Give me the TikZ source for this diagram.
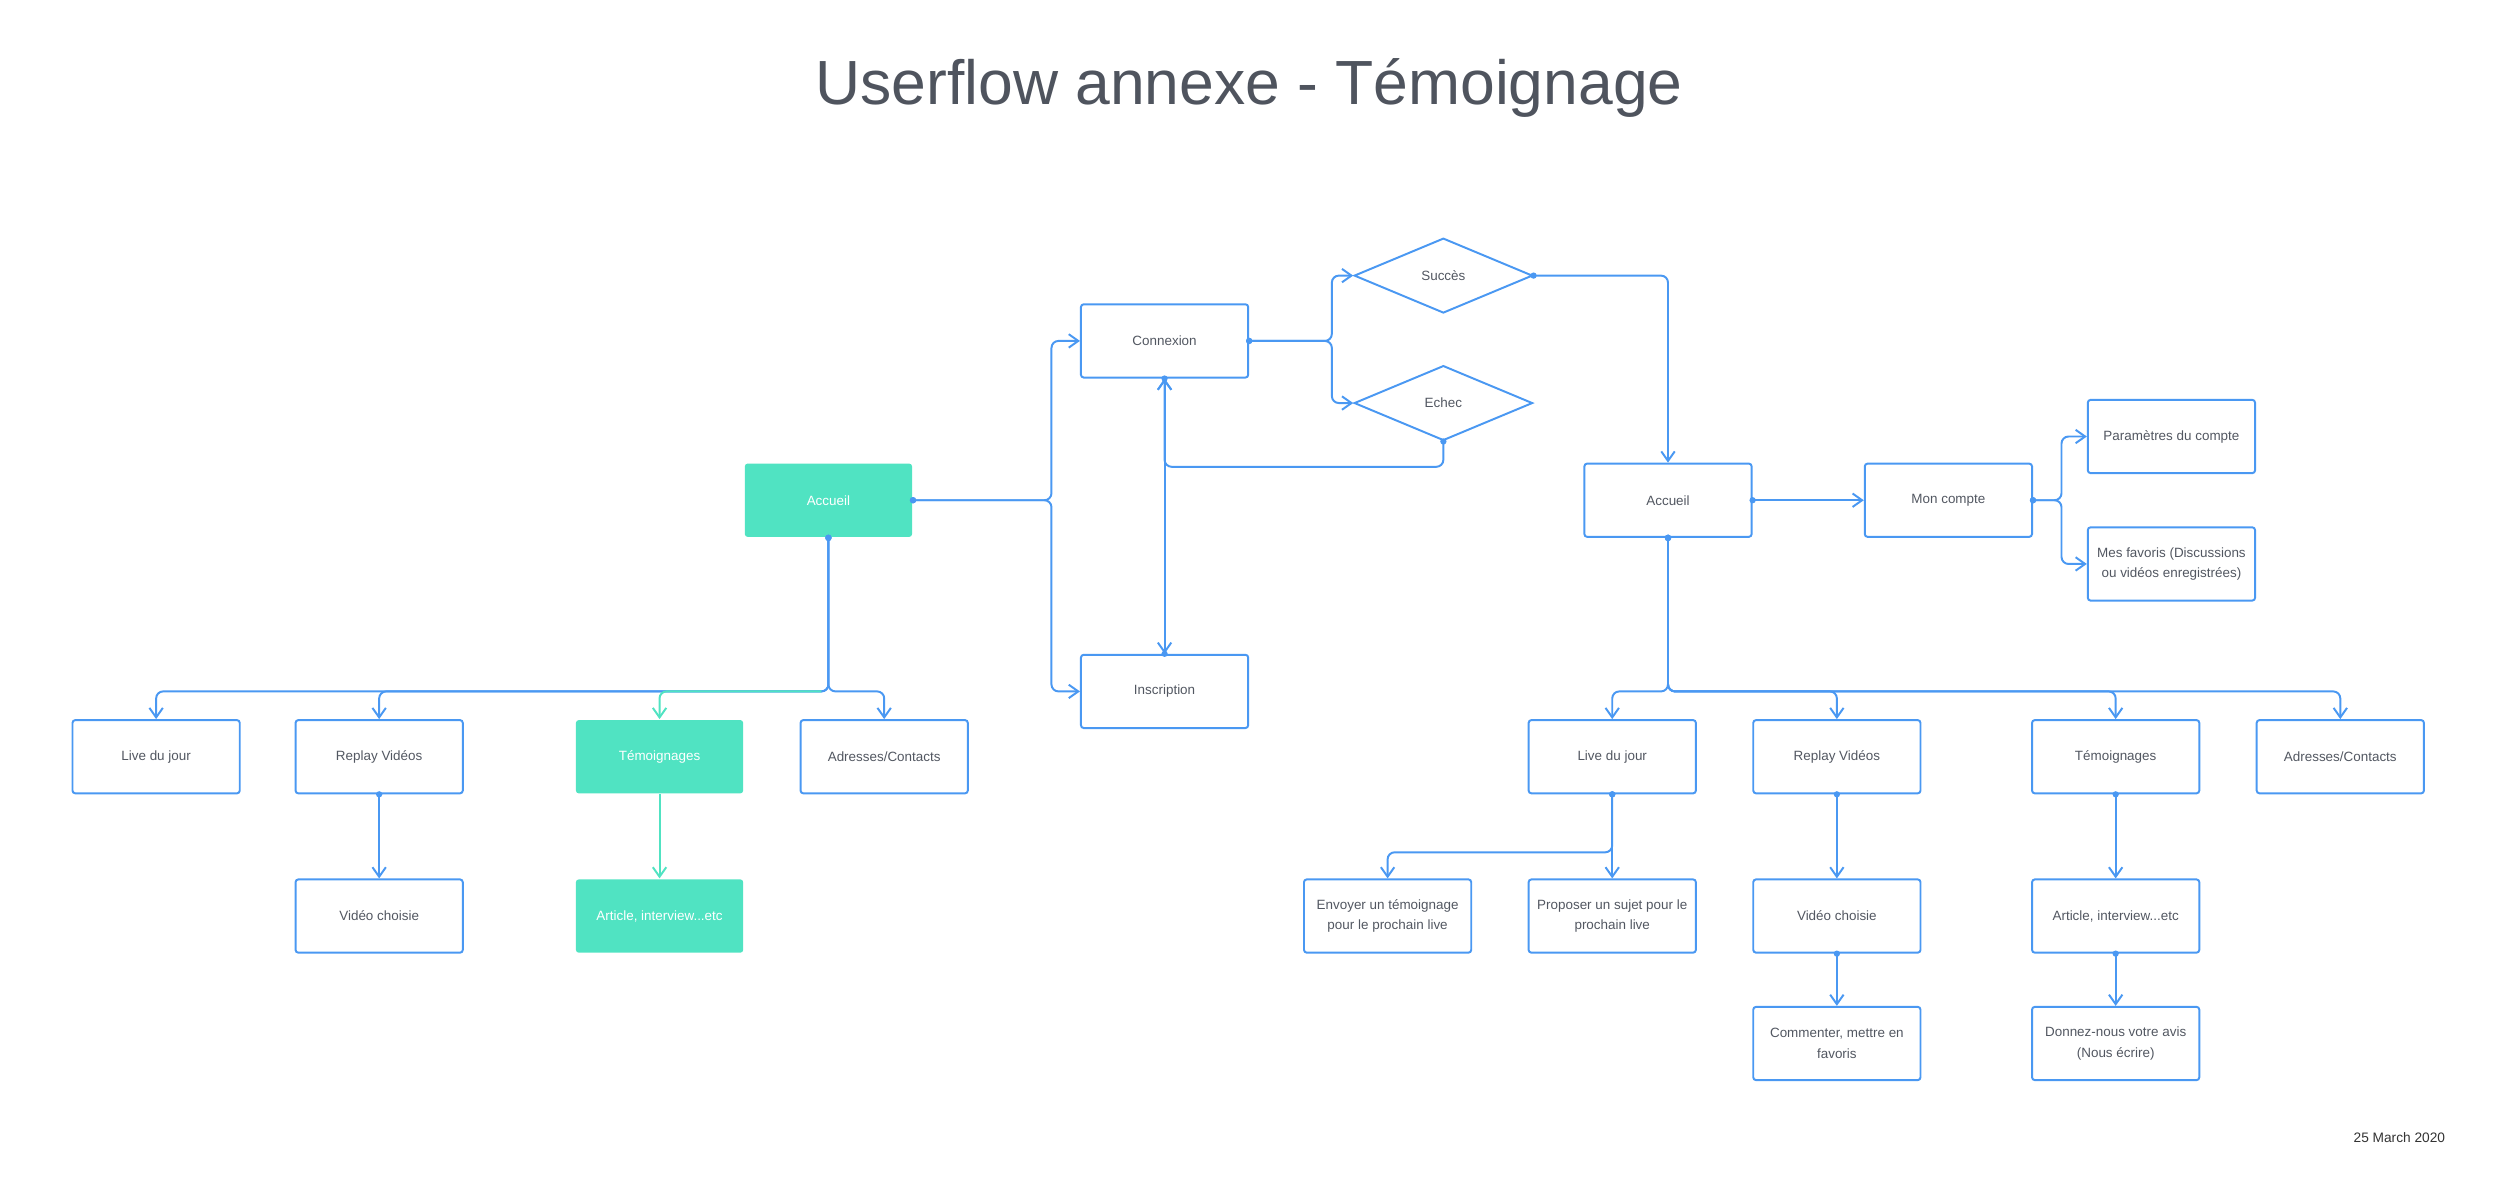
\documentclass[tikz,border=0pt]{standalone}
\usepackage{fontspec}
\setmainfont{Liberation Sans}
\usetikzlibrary{arrows.meta,shapes.geometric}
\definecolor{flowblue}{HTML}{4A98F2}
\definecolor{flowgreen}{HTML}{50E3C2}
\definecolor{textgrey}{HTML}{525761}
\definecolor{titlegrey}{HTML}{4F545E}
\begin{document}
\begin{tikzpicture}[x=0.02cm,y=-0.02cm,
    >={Straight Barb[length=3.4pt,width=4.8pt]},
    box/.style={draw=flowblue,line width=0.7pt,rounded corners=1pt,
        minimum width=2.1cm,minimum height=0.92cm,inner sep=1pt,
        align=center,text=textgrey,font=\fontsize{4.8}{7.4}\selectfont},
    greenbox/.style={box,draw=none,fill=flowgreen,text=white},
    choice/.style={diamond,draw=flowblue,line width=0.7pt,inner sep=0pt,
        minimum width=2.24cm,minimum height=0.94cm,
        text=textgrey,font=\fontsize{4.8}{7.4}\selectfont},
    flow/.style={draw=flowblue,line width=0.7pt,rounded corners=2.5pt,
        {Circle[length=2.2pt]}->,shorten <=-1.1pt},
    greenflow/.style={draw=flowgreen,line width=0.7pt,rounded corners=2.5pt,->}]
  \useasboundingbox (0,0) rectangle (1568,754.5);
  % titre et date
  \node[text=titlegrey,font=\fontsize{22.3}{27}\selectfont] (title) at (784,55) {Userflow annexe - Témoignage};
  \node[anchor=east,text=black!80,font=\fontsize{4.9}{6}\selectfont] (date) at (1541,714) {25 March 2020};
  % partie gauche
  \node[greenbox] (accL) at (520,314) {Accueil};
  \node[box] (conn) at (731,214) {Connexion};
  \node[box] (insc) at (731,434) {Inscription};
  \node[choice] (succ) at (906,173) {Succès};
  \node[choice] (echec) at (906,253) {Echec};
  \node[box] (liveL) at (98,475) {Live du jour};
  \node[box] (replayL) at (238,475) {Replay Vidéos};
  \node[greenbox] (temL) at (414,475) {Témoignages};
  \node[box] (adrL) at (555,475) {Adresses/Contacts};
  \node[box] (vidL) at (238,575) {Vidéo choisie};
  \node[greenbox] (artL) at (414,575) {Article, interview...etc};
  % partie droite
  \node[box] (accR) at (1047,314) {Accueil};
  \node[box] (mon) at (1223,314) {Mon compte};
  \node[box] (param) at (1363,274) {Paramètres du compte};
  \node[box] (fav) at (1363,354) {Mes favoris (Discussions\\ou vidéos enregistrées)};
  \node[box] (liveR) at (1012,475) {Live du jour};
  \node[box] (replayR) at (1153,475) {Replay Vidéos};
  \node[box] (temR) at (1328,475) {Témoignages};
  \node[box] (adrR) at (1469,475) {Adresses/Contacts};
  \node[box] (envoi) at (871,575) {Envoyer un témoignage\\pour le prochain live};
  \node[box] (sujet) at (1012,575) {Proposer un sujet pour le\\prochain live};
  \node[box] (vidR) at (1153,575) {Vidéo choisie};
  \node[box] (artR) at (1328,575) {Article, interview...etc};
  \node[box] (comm) at (1153,655) {Commenter, mettre en\\favoris};
  \node[box] (avis) at (1328,655) {Donnez-nous votre avis\\(Nous écrire)};
  % points de branchement
  \coordinate (jA) at (660,314);
  \coordinate (jC) at (836,214);
  \coordinate (jE) at (731,293);
  \coordinate (jM) at (1294,314);
  \coordinate (jL) at (520,434);
  \coordinate (jR) at (1047,434);
  \coordinate (jV) at (1012,535);
  % connexion
  \draw[flow] (accL.east) -- (jA) |- (conn.west);
  \draw[flow] (accL.east) -- (jA) |- (insc.west);
  \draw[flow] (conn.east) -- (jC) |- (succ.west);
  \draw[flow] (conn.east) -- (jC) |- (echec.west);
  \draw[flow] (echec.south) |- (jE) -- (conn.south);
  \draw[flow] (conn.south) -- (insc.north);
  \draw[flow] (insc.north) -- (conn.south);
  \draw[flow] (succ.east) -| (accR.north);
  % menu gauche
  \draw[flow] (accL.south) -- (jL) -| (liveL.north);
  \draw[flow] (accL.south) -- (jL) -| (replayL.north);
  \draw[flow] (accL.south) -- (jL) -| (adrL.north);
  \draw[greenflow] ([xshift=-2.5pt]jL) -| (temL.north);
  \draw[flow] (replayL.south) -- (vidL.north);
  \draw[greenflow] (temL.south) -- (artL.north);
  % menu droite
  \draw[flow] (accR.east) -- (mon.west);
  \draw[flow] (mon.east) -- (jM) |- (param.west);
  \draw[flow] (mon.east) -- (jM) |- (fav.west);
  \foreach \n in {liveR,replayR,temR,adrR}
    \draw[flow] (accR.south) -- (jR) -| (\n.north);
  \draw[flow] (liveR.south) -- (jV) -| (envoi.north);
  \draw[flow] (liveR.south) -- (sujet.north);
  \draw[flow] (replayR.south) -- (vidR.north);
  \draw[flow] (vidR.south) -- (comm.north);
  \draw[flow] (temR.south) -- (artR.north);
  \draw[flow] (artR.south) -- (avis.north);
\end{tikzpicture}
\end{document}
